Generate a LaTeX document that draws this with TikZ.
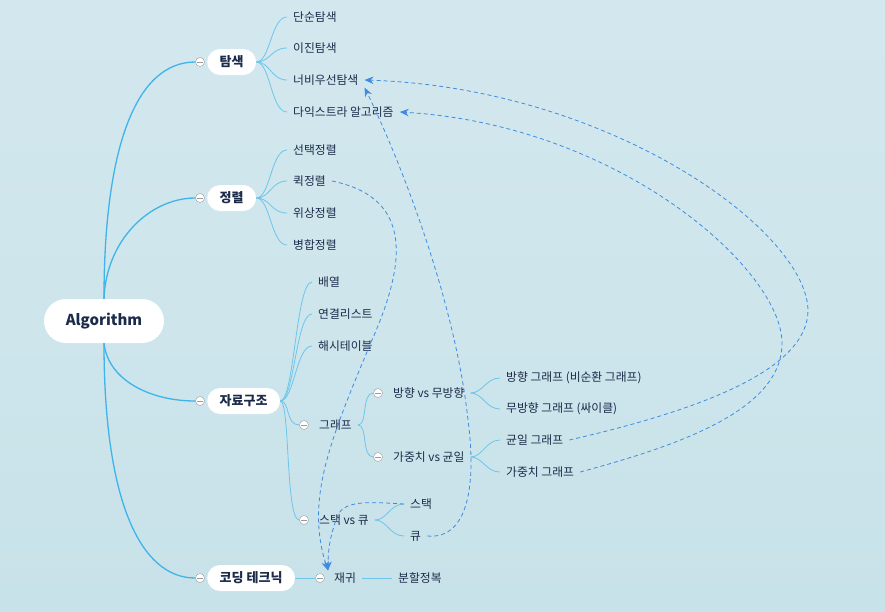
\documentclass[tikz,border=0pt]{standalone}
\usepackage{fontspec}
\setmainfont{Noto Sans CJK KR}
\usetikzlibrary{arrows.meta,positioning,calc}

\definecolor{bgtop}{HTML}{D3E8EE}
\definecolor{bgbot}{HTML}{C8E2E9}
\definecolor{ink}{HTML}{1C2B4A}
\definecolor{trunk}{HTML}{3FB3EA}
\definecolor{branch}{HTML}{6CC6EC}
\definecolor{link}{HTML}{3F8BE0}
\definecolor{foldgray}{HTML}{9A9A9A}

\tikzset{
  root/.style={fill=white, rounded corners=22pt, minimum height=44pt, minimum width=120pt, text=ink, font=\fontsize{15}{18}\selectfont\bfseries},
  topic/.style={anchor=west, fill=white, rounded corners=13pt, minimum height=26pt, inner xsep=12.5pt, text=ink, font=\fontsize{13}{15}\selectfont\bfseries},
  leaf/.style={anchor=west, inner xsep=6pt, inner ysep=2pt, text=ink, font=\fontsize{11.8}{14}\selectfont},
  fold/.style={circle, draw=foldgray, fill=white, minimum size=9pt, inner sep=0pt,
    path picture={\draw[foldgray] ([xshift=-2.6pt]path picture bounding box.center) -- ([xshift=2.6pt]path picture bounding box.center);}},
  trunkline/.style={draw=trunk, line width=1.3pt},
  branchline/.style={draw=branch, line width=0.8pt},
  linkline/.style={draw=link, line width=0.8pt, dash pattern=on 4pt off 3pt, -{Stealth[length=9pt,width=7.5pt]}},
}

\begin{document}
\begin{tikzpicture}[x=1pt,y=-1pt]
  % background
  \fill[top color=bgtop, bottom color=bgbot] (0,0) rectangle (885,611);
  \useasboundingbox (0,0) rectangle (885,611);

  \node[root] (algo) at (104,321) {Algorithm};

  % search
  \node[fold] (fs) at (200,62) {};
  \node[topic] (search) at (207,62) {탐색};
  \node[leaf] (linear) at (287,17) {단순탐색};
  \node[leaf] (binary) at (287,48) {이진탐색};
  \node[leaf] (bfs) at (287,80) {너비우선탐색};
  \node[leaf] (dijkstra) at (287,112) {다익스트라 알고리즘};

  % sort
  \node[fold] (fo) at (200,198) {};
  \node[topic] (sort) at (207,198) {정렬};
  \node[leaf] (selsort) at (287,150) {선택정렬};
  \node[leaf] (quick) at (287,181) {퀵정렬};
  \node[leaf] (topo) at (287,213) {위상정렬};
  \node[leaf] (merge) at (287,245) {병합정렬};

  % data structures
  \node[fold] (fd) at (200,401) {};
  \node[topic] (ds) at (207,401) {자료구조};
  \node[leaf] (array) at (312,282) {배열};
  \node[leaf] (llist) at (312,314) {연결리스트};
  \node[leaf] (hash) at (312,346) {해시테이블};
  \node[fold] (fg) at (304,425) {};
  \node[leaf] (graph) at (313,425) {그래프};
  \node[fold] (fdir) at (378,393) {};
  \node[leaf] (dir) at (387,393) {방향 vs 무방향};
  \node[leaf] (dag) at (500,378) {방향 그래프 (비순환 그래프)};
  \node[leaf] (undir) at (500,409) {무방향 그래프 (싸이클)};
  \node[fold] (fw) at (378,457) {};
  \node[leaf] (wt) at (387,457) {가중치 vs 균일};
  \node[leaf] (uniform) at (500,440) {균일 그래프};
  \node[leaf] (weighted) at (500,472) {가중치 그래프};
  \node[fold] (fsq) at (304,520) {};
  \node[leaf] (sq) at (313,520) {스택 vs 큐};
  \node[leaf] (stack) at (404,504) {스택};
  \node[leaf] (queue) at (404,536) {큐};

  % coding techniques
  \node[fold] (fc) at (200,578) {};
  \node[topic] (coding) at (207,578) {코딩 테크닉};
  \node[fold] (fr) at (320,578) {};
  \node[leaf] (recur) at (328,578) {재귀};
  \node[leaf] (dnc) at (392,578) {분할정복};

  % trunk
  \draw[trunkline] (algo.north) .. controls (104,150) and (135,62) .. (fs.west);
  \draw[trunkline] (algo.north) .. controls (106,240) and (150,198) .. (fo.west);
  \draw[trunkline] (algo.south) .. controls (108,380) and (150,401) .. (fd.west);
  \draw[trunkline] (algo.south) .. controls (104,500) and (140,578) .. (fc.west);

  % branches
  \foreach \c in {linear,binary,bfs,dijkstra}
    \draw[branchline] (search.east) .. controls +(14,0) and +(-16,0) .. (\c.west);
  \foreach \c in {selsort,quick,topo,merge}
    \draw[branchline] (sort.east) .. controls +(14,0) and +(-16,0) .. (\c.west);
  \foreach \c in {array,llist,hash}
    \draw[branchline] (ds.east) .. controls +(14,0) and +(-16,0) .. (\c.west);
  \foreach \c in {fg,fsq}
    \draw[branchline] (ds.east) .. controls +(10,0) and +(-14,0) .. (\c.west);
  \foreach \c in {fdir,fw}
    \draw[branchline] (graph.east) .. controls +(10,0) and +(-12,0) .. (\c.west);
  \foreach \c in {dag,undir}
    \draw[branchline] (dir.east) .. controls +(12,0) and +(-14,0) .. (\c.west);
  \foreach \c in {uniform,weighted}
    \draw[branchline] (wt.east) .. controls +(12,0) and +(-14,0) .. (\c.west);
  \foreach \c in {stack,queue}
    \draw[branchline] (sq.east) .. controls +(12,0) and +(-14,0) .. (\c.west);
  \draw[branchline] (coding.east) -- (fr.west);
  \draw[branchline] (recur.east) -- (dnc.west);

  % cross links
  \draw[linkline] (uniform.east) .. controls (700,410) and (808,370) .. (808,310) .. controls (806,230) and (610,88) .. (bfs.east);
  \draw[linkline] (weighted.east) .. controls (680,445) and (782,410) .. (782,343) .. controls (782,270) and (620,125) .. (dijkstra.east);
  \draw[linkline] (queue.east) .. controls (470,540) and (476,480) .. (468,420) .. controls (455,300) and (400,160) .. (bfs.south east);
  \draw[linkline] (quick.east) .. controls (415,198) and (405,265) .. (372,340) .. controls (330,440) and (305,500) .. (recur.north west);
  \draw[linkline] (stack.west) .. controls (370,502) and (345,500) .. (338,515) .. controls (330,535) and (328,550) .. (recur.north west);
\end{tikzpicture}
\end{document}
